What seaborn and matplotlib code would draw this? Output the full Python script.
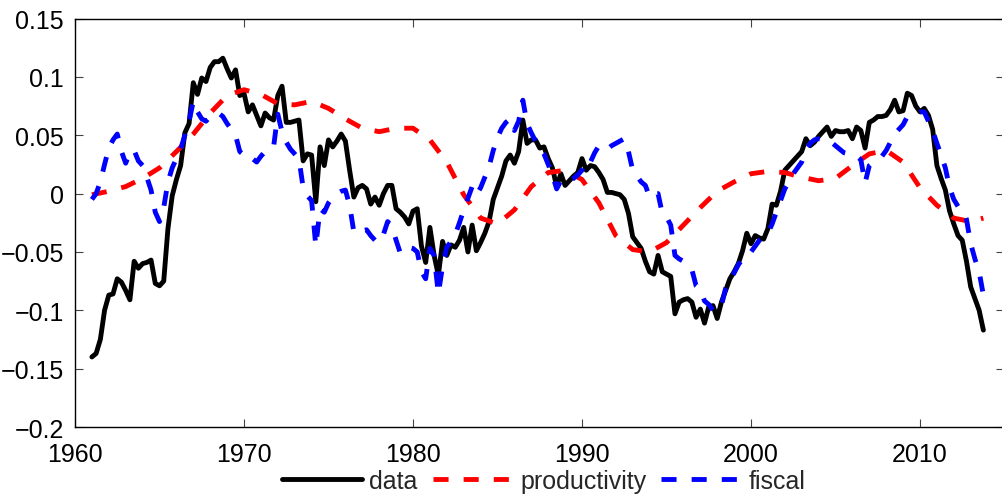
import numpy as np
import pandas as pd
import matplotlib
matplotlib.use("Agg")
import matplotlib.pyplot as plt
import seaborn as sns

# Quarterly sample 1961Q1 .. 2013Q4
start_year = 1961
end_year = 2013

data_vals = [
    -0.140, -0.137, -0.125, -0.100,   # 1961
    -0.087, -0.086, -0.073, -0.076,   # 1962
    -0.083, -0.091, -0.058, -0.064,   # 1963
    -0.060, -0.059, -0.057, -0.077,   # 1964
    -0.079, -0.075, -0.030, -0.002,   # 1965
    0.012, 0.024, 0.052, 0.060,       # 1966
    0.095, 0.085, 0.099, 0.096,       # 1967
    0.108, 0.113, 0.113, 0.116,       # 1968
    0.107, 0.099, 0.106, 0.084,       # 1969
    0.086, 0.070, 0.076, 0.067,       # 1970
    0.058, 0.069, 0.065, 0.063,       # 1971
    0.084, 0.092, 0.061, 0.061,       # 1972
    0.062, 0.063, 0.028, 0.034,       # 1973
    0.033, -0.007, 0.040, 0.024,      # 1974
    0.046, 0.040, 0.045, 0.051,       # 1975
    0.045, 0.020, -0.003, 0.005,      # 1976
    0.007, 0.004, -0.009, -0.003,     # 1977
    -0.010, 0.000, 0.007, 0.007,      # 1978
    -0.013, -0.016, -0.020, -0.026,   # 1979
    -0.015, -0.013, -0.045, -0.059,   # 1980
    -0.029, -0.053, -0.070, -0.041,   # 1981
    -0.053, -0.044, -0.046, -0.040,   # 1982
    -0.029, -0.050, -0.027, -0.049,   # 1983
    -0.042, -0.034, -0.024, -0.005,   # 1984
    0.005, 0.015, 0.028, 0.033,       # 1985
    0.026, 0.036, 0.063, 0.043,       # 1986
    0.046, 0.046, 0.039, 0.040,       # 1987
    0.030, 0.022, 0.006, 0.017,       # 1988
    0.007, 0.011, 0.015, 0.018,       # 1989
    0.030, 0.020, 0.024, 0.023,       # 1990
    0.018, 0.012, 0.001, 0.001,       # 1991
    0.000, -0.001, -0.005, -0.017,    # 1992
    -0.037, -0.042, -0.047, -0.058,   # 1993
    -0.067, -0.069, -0.053, -0.067,   # 1994
    -0.069, -0.071, -0.103, -0.093,   # 1995
    -0.091, -0.090, -0.093, -0.106,   # 1996
    -0.099, -0.111, -0.097, -0.096,   # 1997
    -0.107, -0.093, -0.083, -0.073,   # 1998
    -0.067, -0.060, -0.049, -0.034,   # 1999
    -0.043, -0.036, -0.038, -0.039,   # 2000
    -0.030, -0.009, -0.010, 0.002,    # 2001
    0.020, 0.024, 0.028, 0.032,       # 2002
    0.036, 0.047, 0.041, 0.044,       # 2003
    0.049, 0.053, 0.057, 0.049,       # 2004
    0.054, 0.053, 0.053, 0.054,       # 2005
    0.047, 0.057, 0.054, 0.039,       # 2006
    0.061, 0.063, 0.066, 0.066,       # 2007
    0.067, 0.072, 0.080, 0.070,       # 2008
    0.071, 0.086, 0.084, 0.075,       # 2009
    0.070, 0.073, 0.067, 0.055,       # 2010
    0.024, 0.013, 0.003, -0.015,      # 2011
    -0.026, -0.036, -0.040, -0.058,   # 2012
    -0.080, -0.090, -0.100, -0.117,   # 2013
]

fiscal_vals = [
    -0.005, 0.000, 0.010, 0.025,      # 1961
    0.039, 0.046, 0.051, 0.036,       # 1962
    0.026, 0.036, 0.037, 0.028,       # 1963
    0.024, 0.014, 0.003, -0.016,      # 1964
    -0.024, -0.012, 0.010, 0.022,     # 1965
    0.030, 0.038, 0.050, 0.062,       # 1966
    0.079, 0.070, 0.064, 0.062,       # 1967
    0.066, 0.068, 0.069, 0.066,       # 1968
    0.060, 0.055, 0.050, 0.036,       # 1969
    0.033, 0.034, 0.030, 0.027,       # 1970
    0.032, 0.036, 0.037, 0.040,       # 1971
    0.068, 0.053, 0.044, 0.038,       # 1972
    0.034, 0.030, 0.005, -0.002,      # 1973
    -0.006, -0.045, -0.013, -0.016,   # 1974
    -0.008, -0.003, 0.000, 0.002,     # 1975
    0.003, -0.010, -0.033, -0.034,    # 1976
    -0.032, -0.031, -0.036, -0.040,   # 1977
    -0.042, -0.035, -0.024, -0.028,   # 1978
    -0.040, -0.051, -0.048, -0.046,   # 1979
    -0.047, -0.050, -0.067, -0.073,   # 1980
    -0.047, -0.053, -0.086, -0.062,   # 1981
    -0.046, -0.041, -0.035, -0.025,   # 1982
    -0.014, -0.004, 0.006, -0.001,    # 1983
    0.005, 0.014, 0.023, 0.037,       # 1984
    0.048, 0.056, 0.061, 0.064,       # 1985
    0.054, 0.062, 0.080, 0.060,       # 1986
    0.052, 0.045, 0.039, 0.034,       # 1987
    0.025, 0.016, 0.004, 0.011,       # 1988
    0.009, 0.011, 0.013, 0.016,       # 1989
    0.020, 0.029, 0.027, 0.035,       # 1990
    0.041, 0.040, 0.038, 0.041,       # 1991
    0.043, 0.045, 0.047, 0.036,       # 1992
    0.020, 0.015, 0.010, 0.007,       # 1993
    -0.003, 0.000, 0.000, -0.017,     # 1994
    -0.020, -0.027, -0.053, -0.056,   # 1995
    -0.058, -0.061, -0.065, -0.079,   # 1996
    -0.082, -0.092, -0.095, -0.100,   # 1997
    -0.101, -0.096, -0.081, -0.074,   # 1998
    -0.068, -0.061, -0.056, -0.052,   # 1999
    -0.050, -0.045, -0.040, -0.037,   # 2000
    -0.034, -0.026, -0.016, -0.006,   # 2001
    0.004, 0.010, 0.017, 0.022,       # 2002
    0.027, 0.037, 0.043, 0.046,       # 2003
    0.047, 0.047, 0.046, 0.044,       # 2004
    0.041, 0.038, 0.035, 0.034,       # 2005
    0.034, 0.032, 0.029, 0.009,       # 2006
    0.024, 0.027, 0.029, 0.032,       # 2007
    0.037, 0.044, 0.051, 0.055,       # 2008
    0.059, 0.066, 0.067, 0.069,       # 2009
    0.070, 0.070, 0.062, 0.054,       # 2010
    0.043, 0.033, 0.022, 0.005,       # 2011
    -0.005, -0.011, -0.013, -0.022,   # 2012
    -0.043, -0.056, -0.067, -0.087,   # 2013
]

# Productivity component is smooth; sampled once a year plus the last quarter
prod_years = list(range(1961, 2014)) + [2013.75]
prod_vals = [
    -0.001, 0.002, 0.006, 0.013, 0.022, 0.036, 0.051, 0.069, 0.084, 0.089,  # 1961-1970
    0.085, 0.077, 0.076, 0.079, 0.073, 0.064, 0.056, 0.053, 0.056, 0.056,   # 1971-1980
    0.046, 0.027, -0.001, -0.021, -0.026, -0.014, 0.006, 0.018, 0.020, 0.012,  # 1981-1990
    -0.008, -0.036, -0.048, -0.050, -0.042, -0.027, -0.012, 0.002, 0.010, 0.017,  # 1991-2000
    0.019, 0.018, 0.014, 0.011, 0.013, 0.024, 0.034, 0.037, 0.027, 0.005,  # 2001-2010
    -0.010, -0.021, -0.024, -0.021,  # 2011-2013, 2013Q4
]

series_labels = ["data", "productivity", "fiscal"]
xtick_vals = [1960, 1970, 1980, 1990, 2000, 2010]
ytick_vals = [-0.2, -0.15, -0.1, -0.05, 0, 0.05, 0.1, 0.15]

quarters = np.arange(start_year, end_year + 1, 0.25)
quarters = quarters[: len(data_vals)]

sns.set_theme(style="white")
plt.rcParams["font.family"] = ["Liberation Sans", "DejaVu Sans"]

fig = plt.figure(figsize=(10.03, 5.02), dpi=100)
ax = fig.add_axes([75 / 1003, 1 - 428 / 502, (1004.5 - 75) / 1003, (428 - 19.5) / 502])

line_w = 3.5
dash = (0, (3.1, 3.1))
sns.lineplot(x=quarters, y=data_vals, ax=ax, color="black", lw=line_w,
             label=series_labels[0], sort=False)
sns.lineplot(x=prod_years, y=prod_vals, ax=ax, color="#ff0000", lw=line_w,
             linestyle=dash, label=series_labels[1], sort=False)
sns.lineplot(x=quarters, y=fiscal_vals, ax=ax, color="#0000ff", lw=line_w,
             linestyle=dash, label=series_labels[2], sort=False)

ax.set_xlim(1960, 2015)
ax.set_ylim(-0.2, 0.15)
ax.set_xticks(xtick_vals)
ax.set_yticks(ytick_vals)
ax.set_xticklabels([str(v) for v in xtick_vals])
ax.set_yticklabels([f"{v:g}".replace("-", "\u2212") for v in ytick_vals])

ax.tick_params(axis="y", direction="in", length=6, width=0.8, color="#444444",
               labelsize=18, labelcolor="black", left=True, right=True, pad=8)
ax.tick_params(axis="x", direction="in", length=6, width=0.8, color="#444444",
               labelsize=18, labelcolor="black", bottom=True, top=True, pad=11)
for side in ax.spines.values():
    side.set_visible(True)
    side.set_color("black")
    side.set_linewidth(1.0)
ax.grid(False)
ax.set_xlabel("")
ax.set_ylabel("")

ax.get_legend().remove()
handles, labels = ax.get_legend_handles_labels()
fig.legend(handles, labels, loc="center", bbox_to_anchor=(0.542, 0.040),
           ncol=3, frameon=False, fontsize=18, handlelength=3.2,
           handletextpad=0.3, columnspacing=0.6, borderaxespad=0)

fig.savefig("out.png", dpi=100, facecolor="white")
